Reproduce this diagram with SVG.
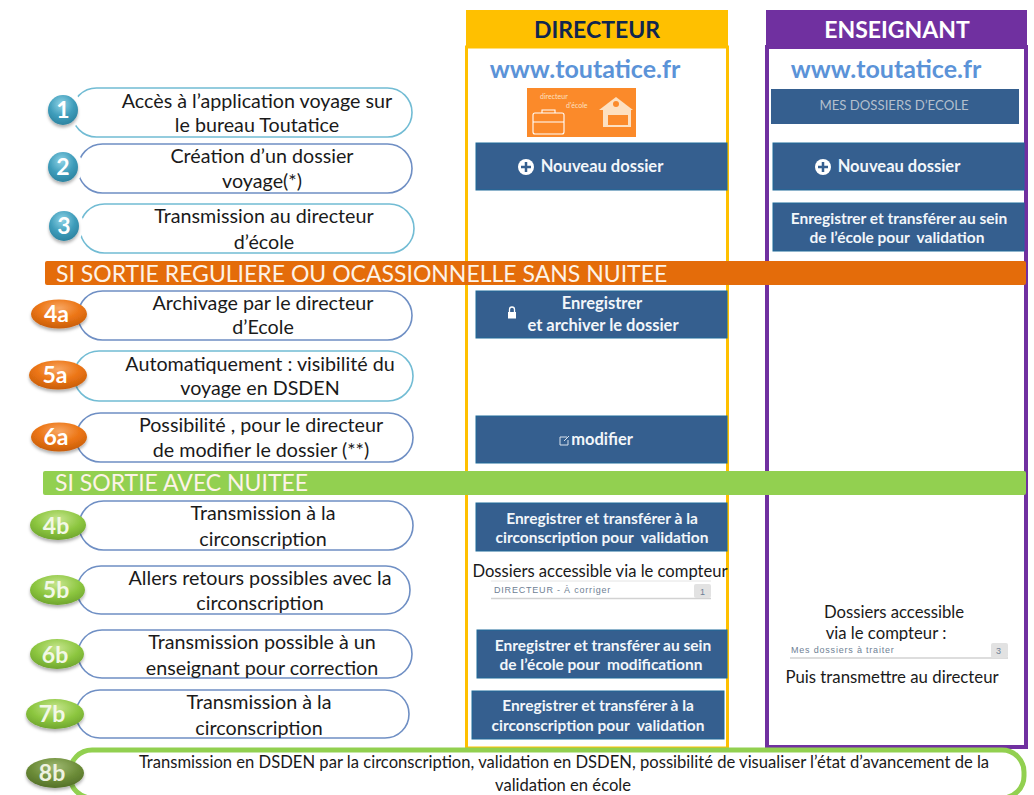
<svg xmlns="http://www.w3.org/2000/svg" width="1034" height="795" viewBox="0 0 1034 795">
<defs>
<radialGradient id="gb" cx="45%" cy="30%" r="75%"><stop offset="0" stop-color="#8fd3e6"/><stop offset=".55" stop-color="#3f9dbb"/><stop offset="1" stop-color="#2a7f9c"/></radialGradient>
<radialGradient id="go" cx="50%" cy="30%" r="75%"><stop offset="0" stop-color="#f7a765"/><stop offset=".5" stop-color="#ec7514"/><stop offset="1" stop-color="#c25a0c"/></radialGradient>
<radialGradient id="gg" cx="50%" cy="30%" r="75%"><stop offset="0" stop-color="#c6e58e"/><stop offset=".55" stop-color="#8cc63f"/><stop offset="1" stop-color="#6a9f2c"/></radialGradient>
<radialGradient id="gd" cx="50%" cy="30%" r="75%"><stop offset="0" stop-color="#9fb972"/><stop offset=".55" stop-color="#6c8c38"/><stop offset="1" stop-color="#4f6b26"/></radialGradient>
<filter id="sh" x="-30%" y="-30%" width="160%" height="170%"><feDropShadow dx="0" dy="2.500" stdDeviation="1.800" flood-color="#000" flood-opacity=".3"/></filter>
</defs>
<style>
text{font-family:Lato,"Open Sans","Liberation Sans",sans-serif;fill:#1a1a1a;white-space:pre}
.t{font-size:19.700px;text-anchor:middle}
.p{fill:#fff;stroke-width:1.600}
.c{stroke:#72bcd4}.u{stroke:#6f8fc4}
.bn{font-size:23px;font-weight:700;fill:#fff;text-anchor:middle}
.btn{fill:#355f8f;stroke:#1f6a99;stroke-width:1}
.bt{font-size:15.500px;font-weight:700;fill:#f2f6fa;text-anchor:middle}
.bl{font-size:16.500px}
.url{font-size:25px;font-weight:700;fill:#5b93d8;text-anchor:middle}
.band{font-size:23px;fill:#fdf3e8}
.ct{font-family:"Liberation Sans",sans-serif;font-size:9px;letter-spacing:.8px;fill:#6f7f95}
.halo{fill:#fff}
.cnt{fill:#e2e2e2}
</style>
<g id="col-directeur">
<rect x="466.500" y="47" width="261" height="701" fill="#fff" stroke="#ffc000" stroke-width="3"/>
<rect x="466" y="10" width="262" height="37" fill="#ffc000"/>
<text x="597" y="38" font-size="23" font-weight="700" text-anchor="middle" style="fill:#10264f">DIRECTEUR</text>
<text class="url" x="585" y="78">www.toutatice.fr</text>
</g>
<g id="col-enseignant">
<rect x="767" y="47" width="259" height="700" fill="#fff" stroke="#7030a0" stroke-width="4"/>
<rect x="766" y="10" width="261" height="37" fill="#7030a0"/>
<text x="897" y="38" font-size="23" font-weight="700" text-anchor="middle" style="fill:#fff">ENSEIGNANT</text>
<text class="url" x="886" y="78">www.toutatice.fr</text>
</g>
<g id="connectors"></g>
<g id="icon-directeur-ecole">
<rect x="527" y="88" width="109" height="49" fill="#fb8a2a"/>
<text x="540" y="99" font-size="7" style="fill:#fde0c0">directeur</text>
<text x="566" y="108" font-size="7" style="fill:#fde0c0">d'école</text>
<g fill="none" stroke="#fff" stroke-width="1.100"><rect x="533" y="113" width="31" height="21" rx="2"/><path d="M542 113v-3h13v3M533 122h31"/></g>
<path d="M599 110l17-13 17 13z" fill="#fde0c0"/><circle cx="616" cy="104" r="3" fill="#fb8a2a"/><rect x="603" y="110" width="28" height="17" fill="#fde0c0"/><path d="M608 115h20v10h-20z" fill="#fb8a2a"/>
</g>
<g id="btn-mes-dossiers"><rect x="771" y="89" width="248" height="35" fill="#355f8f"/><text x="894" y="110" font-size="13.200" text-anchor="middle" style="fill:#b3bfcd">MES DOSSIERS D’ECOLE</text></g>
<g id="btn-nouveau-d"><rect class="btn" x="476" y="143" width="251" height="47"/><circle cx="526" cy="167" r="8" fill="#fff"/><path d="M526 162v10M521 167h10" stroke="#355f8f" stroke-width="2.500"/><text class="bt bl" x="602" y="172">Nouveau dossier</text></g>
<g id="btn-nouveau-e"><rect class="btn" x="773" y="143" width="251" height="47"/><circle cx="823" cy="167" r="8" fill="#fff"/><path d="M823 162v10M818 167h10" stroke="#355f8f" stroke-width="2.500"/><text class="bt bl" x="899" y="172">Nouveau dossier</text></g>
<g id="btn-transfert-e"><rect class="btn" x="773" y="203" width="251" height="48"/><text class="bt" x="899" y="224">Enregistrer et transférer au sein</text><text class="bt" x="897" y="243">de l’école pour  validation</text></g>
<g id="btn-archiver"><rect class="btn" x="476" y="291" width="251" height="47"/><rect x="508" y="312" width="8" height="6.500" fill="#fff"/><path d="M509.500 312v-2.500a2.500 2.500 0 0 1 5 0v2.500" fill="none" stroke="#fff" stroke-width="1.300"/><text class="bt bl" x="602" y="309">Enregistrer</text><text class="bt bl" x="603" y="331">et archiver le dossier</text></g>
<g id="btn-modifier"><rect class="btn" x="476" y="416" width="251" height="47"/><path d="M567 437h-7v8h8v-5M564 441l5-5" fill="none" stroke="#d8e2ec" stroke-width="1"/><text class="bt bl" x="602" y="445">modifier</text></g>
<g id="btn-circo-1"><rect class="btn" x="476" y="503" width="251" height="48"/><text class="bt" x="602" y="524">Enregistrer et transférer à la</text><text class="bt" x="602" y="543">circonscription pour  validation</text></g>
<g id="compteur-d"><text class="t" x="600" y="577" style="font-size:16.600px">Dossiers accessible via le compteur</text><path d="M491 581h220" stroke="#e4e4e4"/><path d="M491 598.500h220" stroke="#d2d2d2" stroke-width="1.500"/><text class="ct" x="494" y="593">DIRECTEUR - À corriger</text><rect class="cnt" x="694" y="584" width="17" height="14" rx="2"/><text class="ct" x="700" y="595">1</text></g>
<g id="btn-sein-d"><rect class="btn" x="477" y="630" width="250" height="48"/><text class="bt" x="603" y="651">Enregistrer et transférer au sein</text><text class="bt" x="601" y="670">de l’école pour  modificationn</text></g>
<g id="btn-circo-2"><rect class="btn" x="472" y="691" width="252" height="48"/><text class="bt" x="598" y="711">Enregistrer et transférer à la</text><text class="bt" x="598" y="731">circonscription pour  validation</text></g>
<g id="compteur-e"><text class="t" x="894" y="618" style="font-size:16.700px">Dossiers accessible</text><text class="t" x="886" y="639" style="font-size:16.700px">via le compteur :</text><rect x="790" y="641" width="218" height="17" fill="#fff"/><path d="M790 658h218" stroke="#d2d2d2" stroke-width="1.500"/><text class="ct" x="791" y="653">Mes dossiers à traiter</text><rect class="cnt" x="991" y="643" width="17" height="15" rx="2"/><text class="ct" x="996" y="654">3</text><text class="t" x="892" y="683" style="font-size:16.800px">Puis transmettre au directeur</text></g>
<g id="band-orange"><rect x="45" y="261" width="981" height="24" rx="2" fill="#e46c0a"/><text class="band" x="56" y="282">SI SORTIE REGULIERE OU OCASSIONNELLE SANS NUITEE</text></g>
<g id="band-green"><rect x="43" y="471" width="983" height="24" rx="2" fill="#92d050"/><text class="band" x="55" y="491">SI SORTIE AVEC NUITEE</text></g>
<g id="s1"><rect class="p c" x="72" y="88" width="340" height="49" rx="24.500"/><text class="t" x="257" y="108">Accès à l’application voyage sur</text><text class="t" x="257" y="132">le bureau Toutatice</text><circle class="halo" cx="63" cy="110" r="20"/><circle cx="63" cy="110" r="15" fill="url(#gb)" filter="url(#sh)"/><text class="bn" x="63" y="118">1</text></g>
<g id="s2"><rect class="p u" x="78" y="144" width="334" height="49" rx="24.500"/><text class="t" x="262" y="163">Création d’un dossier</text><text class="t" x="262" y="188">voyage(*)</text><circle class="halo" cx="63" cy="167" r="20"/><circle cx="63" cy="167" r="15" fill="url(#gb)" filter="url(#sh)"/><text class="bn" x="63" y="175">2</text></g>
<g id="s3"><rect class="p c" x="80" y="204" width="334" height="49" rx="24.500"/><text class="t" x="264" y="223">Transmission au directeur</text><text class="t" x="264" y="249">d’école</text><circle class="halo" cx="64" cy="226" r="20"/><circle cx="64" cy="226" r="15" fill="url(#gb)" filter="url(#sh)"/><text class="bn" x="64" y="234">3</text></g>
<g id="s4a"><rect class="p u" x="78" y="291" width="334" height="49" rx="24.500"/><text class="t" x="263" y="310">Archivage par le directeur</text><text class="t" x="263" y="334">d’Ecole</text><ellipse cx="59" cy="314" rx="28" ry="14.500" fill="url(#go)" filter="url(#sh)"/><text class="bn" x="56.500" y="322">4a</text></g>
<g id="s5a"><rect class="p c" x="74" y="351" width="339" height="50" rx="25"/><text class="t" x="260" y="371">Automatiquement : visibilité du</text><text class="t" x="260" y="395">voyage en DSDEN</text><ellipse cx="58" cy="375" rx="29" ry="14.500" fill="url(#go)" filter="url(#sh)"/><text class="bn" x="55" y="383">5a</text></g>
<g id="s6a"><rect class="p u" x="76" y="413" width="337" height="49" rx="24.500"/><text class="t" x="261" y="432">Possibilité , pour le directeur</text><text class="t" x="261" y="457">de modifier le dossier (**)</text><ellipse cx="59" cy="437" rx="28" ry="14.500" fill="url(#go)" filter="url(#sh)"/><text class="bn" x="56" y="445">6a</text></g>
<g id="s4b"><rect class="p u" x="79" y="501" width="334" height="49" rx="24.500"/><text class="t" x="263" y="520">Transmission à la</text><text class="t" x="263" y="546">circonscription</text><ellipse cx="58" cy="525" rx="28" ry="15" fill="url(#gg)" filter="url(#sh)"/><text class="bn" x="56" y="534" style="fill:#f2f8e6">4b</text></g>
<g id="s5b"><rect class="p u" x="77" y="566" width="333" height="48" rx="24"/><text class="t" x="260" y="585">Allers retours possibles avec la</text><text class="t" x="260" y="610">circonscription</text><ellipse cx="57.500" cy="590" rx="27.500" ry="15" fill="url(#gg)" filter="url(#sh)"/><text class="bn" x="56" y="598" style="fill:#f2f8e6">5b</text></g>
<g id="s6b"><rect class="p u" x="78" y="630" width="334" height="48" rx="24"/><text class="t" x="262" y="649">Transmission possible à un</text><text class="t" x="262" y="675">enseignant pour correction</text><ellipse cx="57" cy="654" rx="27" ry="15" fill="url(#gg)" filter="url(#sh)"/><text class="bn" x="55" y="663" style="fill:#f2f8e6">6b</text></g>
<g id="s7b"><rect class="p u" x="76" y="690" width="333" height="48" rx="24"/><text class="t" x="259" y="709">Transmission à la</text><text class="t" x="259" y="735">circonscription</text><ellipse cx="55" cy="714" rx="29" ry="15" fill="url(#gg)" filter="url(#sh)"/><text class="bn" x="52" y="722" style="fill:#f2f8e6">7b</text></g>
<g id="s8b"><rect x="70" y="750" width="954" height="48" rx="22" fill="#fff" stroke="#92d050" stroke-width="5"/><text class="t" x="564" y="768" style="font-size:16.600px">Transmission en DSDEN par la circonscription, validation en DSDEN, possibilité de visualiser l’état d’avancement de la</text><text class="t" x="563" y="791" style="font-size:16.600px">validation en école</text><ellipse cx="55" cy="773" rx="29" ry="15" fill="url(#gd)" filter="url(#sh)"/><text class="bn" x="52" y="781" style="fill:#eef2e0">8b</text></g>
</svg>
